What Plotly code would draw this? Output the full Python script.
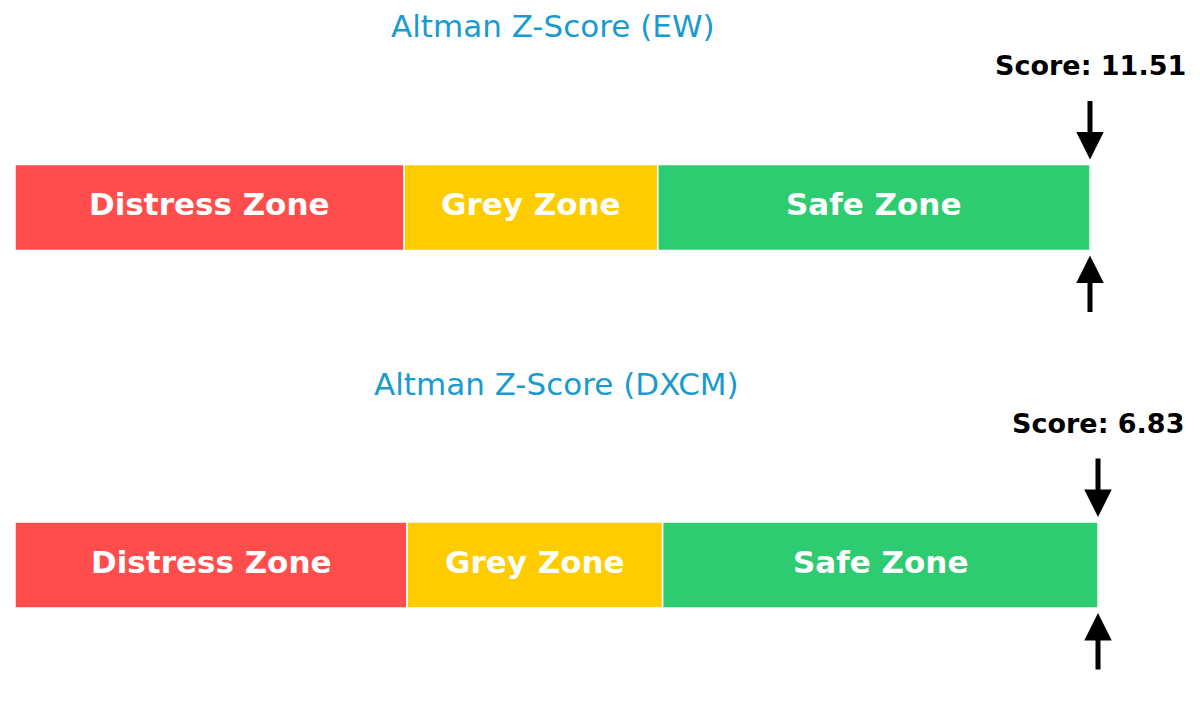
import plotly.graph_objects as go

# Altman Z-Score zones and company scores
zone_names = ["Distress Zone", "Grey Zone", "Safe Zone"]
zone_bounds = [0, 1.81, 2.99, 5.0]
zone_colors = ["#FF4D4D", "#FFCC00", "#2ECC71"]
companies = ["EW", "DXCM"]
scores = [11.51, 6.83]

W, H = 1200, 715
FONT = "DejaVu Sans"
TITLE_COLOR = "#1A9BD0"

# pixel placement of each panel (left, right, top, bottom of axis area)
panels = [
    dict(x0=15, x1=1090, top=90, bottom=325),
    dict(x0=15, x1=1098, top=447.5, bottom=682.5),
]
BAR_PX = 86

fig = go.Figure()
annotations = []

for i, (company, score) in enumerate(zip(companies, scores)):
    p = panels[i]
    xa = "x" if i == 0 else f"x{i + 1}"
    ya = "y" if i == 0 else f"y{i + 1}"
    dom_h = p["bottom"] - p["top"]
    bar_w = BAR_PX / dom_h * 2  # y range is [-1, 1]

    for name, lo, hi, color in zip(zone_names, zone_bounds[:-1], zone_bounds[1:], zone_colors):
        fig.add_trace(go.Bar(
            x=[hi - lo], base=[lo], y=[0],
            orientation="h",
            width=bar_w,
            marker=dict(color=color, line=dict(color="white", width=1.5)),
            showlegend=False,
            hoverinfo="skip",
            xaxis=xa, yaxis=ya,
        ))
        # zone label, centred in its segment
        annotations.append(dict(
            x=(lo + hi) / 2, y=0, xref=xa, yref=ya, yshift=3,
            text=name, showarrow=False,
            xanchor="center", yanchor="middle",
            font=dict(family=FONT, size=31, color="white", weight="bold"),
        ))

    xmax = zone_bounds[-1]
    marker_x = min(score, xmax)
    bar_top = bar_w / 2

    fig.layout[f"xaxis{'' if i == 0 else i + 1}"] = dict(
        domain=[p["x0"] / W, p["x1"] / W], range=[0, xmax],
        visible=False, fixedrange=True, anchor=ya,
    )
    fig.layout[f"yaxis{'' if i == 0 else i + 1}"] = dict(
        domain=[1 - p["bottom"] / H, 1 - p["top"] / H], range=[-1, 1],
        visible=False, fixedrange=True, anchor=xa,
    )

    # arrows above and below the bar
    annotations.append(dict(
        x=marker_x, y=bar_top, xref=xa, yref=ya,
        ax=0, ay=-65, showarrow=True, arrowhead=2, arrowsize=1.1,
        arrowwidth=5, arrowcolor="black", standoff=5, text="",
    ))
    annotations.append(dict(
        x=marker_x, y=-bar_top, xref=xa, yref=ya,
        ax=0, ay=63, showarrow=True, arrowhead=2, arrowsize=1.1,
        arrowwidth=5, arrowcolor="black", standoff=5, text="",
    ))
    # score label
    annotations.append(dict(
        x=marker_x, y=bar_top, xref=xa, yref=ya, yshift=99,
        text=f"Score: {score:.2f}", showarrow=False,
        xanchor="center", yanchor="middle",
        font=dict(family=FONT, size=27, color="black", weight="bold"),
    ))
    # panel title
    annotations.append(dict(
        x=xmax / 2, y=bar_top, xref=xa, yref=ya, yshift=138,
        text=f"Altman Z-Score ({company})", showarrow=False,
        xanchor="center", yanchor="middle",
        font=dict(family=FONT, size=31, color=TITLE_COLOR),
    ))

fig.update_layout(
    width=W, height=H,
    margin=dict(l=0, r=0, t=0, b=0),
    paper_bgcolor="white", plot_bgcolor="white",
    barmode="overlay",
    annotations=annotations,
)

# remove default page margin so the figure sits at the window origin
fig.write_html(
    "out.html",
    config={"displayModeBar": False},
    post_script="document.body.style.margin='0';",
)
